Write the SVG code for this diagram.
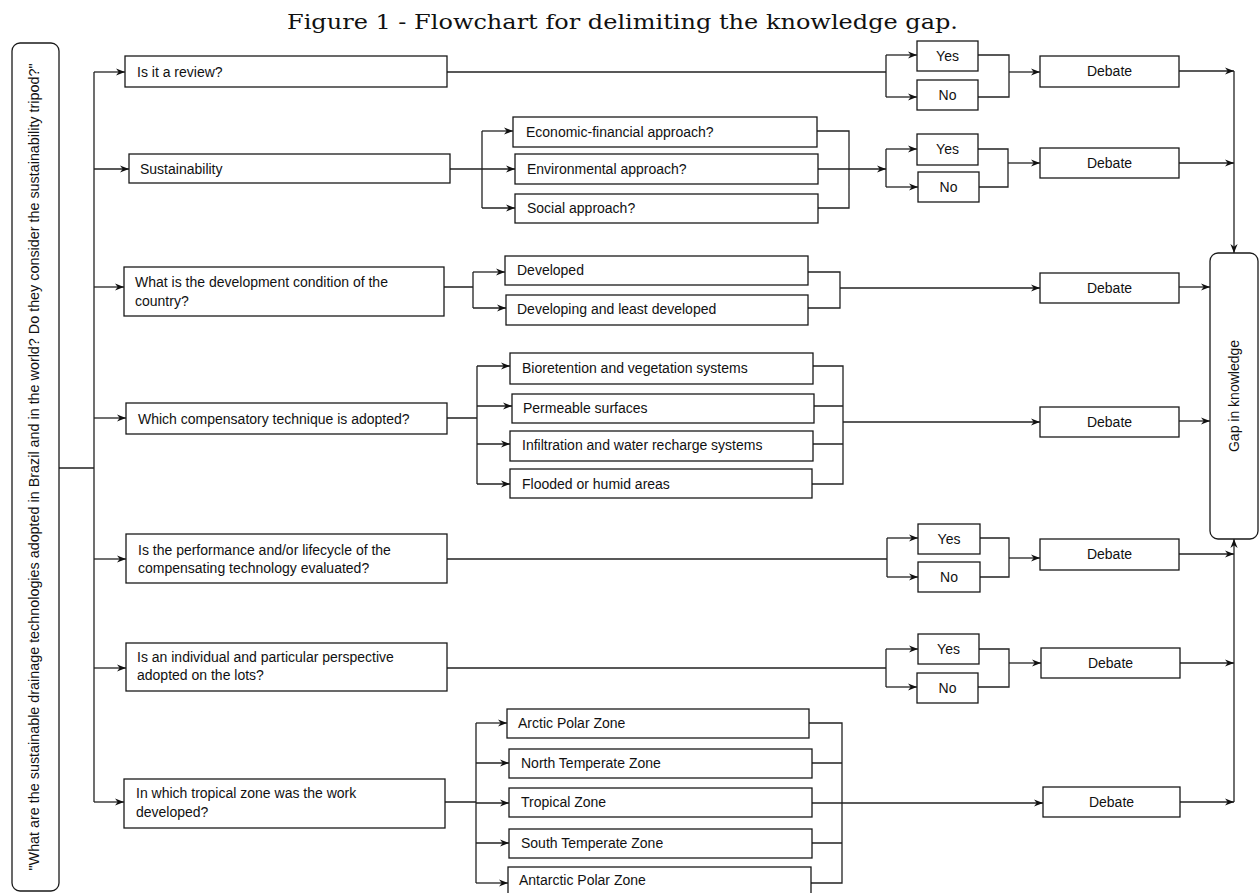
<svg xmlns="http://www.w3.org/2000/svg" width="1260" height="893" viewBox="0 0 1260 893">
<style>
.b{fill:#fff;stroke:#1a1a1a;stroke-width:1.3}
.t{font-family:"Liberation Sans",Arial,sans-serif;font-size:14px;fill:#111}
.c{text-anchor:middle}
.l{fill:none;stroke:#222;stroke-width:1.3}
.a{marker-end:url(#ar)}
</style>
<defs>
<marker id="ar" viewBox="0 0 10 8" refX="10" refY="4" markerWidth="9" markerHeight="7.2" orient="auto" markerUnits="userSpaceOnUse">
<path d="M0,0 L10,4 L0,8 L3,4 Z" fill="#111"/>
</marker>
</defs>
<rect width="1260" height="893" fill="#fff"/>
<text x="622.5" y="29" text-anchor="middle" font-family="'DejaVu Serif','Liberation Serif',serif" font-size="20" fill="#111" textLength="671" lengthAdjust="spacingAndGlyphs">Figure 1 - Flowchart for delimiting the knowledge gap.</text>

<g id="connectors">
<path class="l" d="M59,468 H94 M94,72 V802"/>
<path class="l a" d="M94,72 H125"/>
<path class="l a" d="M94,169 H129"/>
<path class="l a" d="M94,287 H124"/>
<path class="l a" d="M94,418 H126"/>
<path class="l a" d="M94,559 H126"/>
<path class="l a" d="M94,668 H126"/>
<path class="l a" d="M94,802 H124"/>
<!-- row1 -->
<path class="l" d="M447,72 H886 M886,55 V97 M978,55 H1009 V97 H978"/>
<path class="l a" d="M886,55 H917"/>
<path class="l a" d="M886,97 H917"/>
<path class="l a" d="M1009,72 H1040"/>
<path class="l a" d="M1179,71 H1234"/>
<!-- row2 -->
<path class="l" d="M450,169 H482 M482,131 V208 M817,131 H849 V208 H818 M886,149 V187 M978,149 H1008 V187 H979"/>
<path class="l a" d="M482,131 H513"/>
<path class="l a" d="M482,169 H515"/>
<path class="l a" d="M482,208 H515"/>
<path class="l a" d="M818,169 H886"/>
<path class="l a" d="M886,149 H917"/>
<path class="l a" d="M886,187 H918"/>
<path class="l a" d="M1008,163 H1040"/>
<path class="l a" d="M1179,163 H1234"/>
<path class="l a" d="M1234,71 V253"/>
<!-- row3 -->
<path class="l" d="M444,287 H473 M473,272 V308 M808,272 H840 V308 H808"/>
<path class="l a" d="M473,272 H505"/>
<path class="l a" d="M473,308 H506"/>
<path class="l a" d="M840,288 H1040"/>
<path class="l a" d="M1179,287 H1210"/>
<!-- row4 -->
<path class="l" d="M447,418 H477 M477,366 V484 M813,366 H843 V484 H812 M814,406 H843 M813,444 H843"/>
<path class="l a" d="M477,366 H510"/>
<path class="l a" d="M477,406 H512"/>
<path class="l a" d="M477,444 H510"/>
<path class="l a" d="M477,484 H510"/>
<path class="l a" d="M843,422 H1040"/>
<path class="l a" d="M1179,421 H1210"/>
<!-- row5 -->
<path class="l" d="M447,559 H887 M887,538 V577 M980,538 H1009 V577 H980"/>
<path class="l a" d="M887,538 H918"/>
<path class="l a" d="M887,577 H918"/>
<path class="l a" d="M1009,558 H1040"/>
<path class="l a" d="M1179,554 H1234"/>
<!-- row6 -->
<path class="l" d="M447,668 H886 M886,649 V687 M979,649 H1009 V687 H978"/>
<path class="l a" d="M886,649 H918"/>
<path class="l a" d="M886,687 H917"/>
<path class="l a" d="M1009,663 H1041"/>
<path class="l a" d="M1180,663 H1234"/>
<!-- row7 -->
<path class="l" d="M445,802 H476 M476,723 V883 M809,723 H842 V883 H811 M812,763 H842 M812,843 H842"/>
<path class="l a" d="M476,723 H507"/>
<path class="l a" d="M476,763 H509"/>
<path class="l a" d="M476,803 H509"/>
<path class="l a" d="M476,843 H509"/>
<path class="l a" d="M476,883 H508"/>
<path class="l a" d="M812,803 H1043"/>
<path class="l a" d="M1180,802 H1234"/>
<path class="l a" d="M1234,802 V539"/>
</g>

<g id="question">
<rect class="b" x="12" y="43" width="47" height="848" rx="8"/>
<text class="t c" transform="translate(35,467) rotate(-90)" x="0" y="4" font-size="13" textLength="807" lengthAdjust="spacingAndGlyphs">"What are the sustainable drainage technologies adopted in Brazil and in the world? Do they consider the sustainability tripod?"</text>
</g>
<g id="gap">
<rect class="b" x="1210" y="253" width="48" height="286" rx="8"/>
<text class="t c" transform="translate(1234,396) rotate(-90)" x="0" y="5">Gap in knowledge</text>
</g>

<g id="q-review"><rect class="b" x="125" y="56" width="322" height="31"/><text class="t" x="137" y="77">Is it a review?</text></g>
<g id="q-sust"><rect class="b" x="129" y="154" width="321" height="29"/><text class="t" x="140" y="174">Sustainability</text></g>
<g id="q-dev"><rect class="b" x="124" y="267" width="320" height="49"/><text class="t" x="135" y="287">What is the development condition of the</text><text class="t" x="135" y="306">country?</text></g>
<g id="q-tech"><rect class="b" x="126" y="403" width="321" height="31"/><text class="t" x="138" y="424">Which compensatory technique is adopted?</text></g>
<g id="q-perf"><rect class="b" x="126" y="534" width="321" height="49"/><text class="t" x="138" y="555">Is the performance and/or lifecycle of the</text><text class="t" x="138" y="573">compensating technology evaluated?</text></g>
<g id="q-ind"><rect class="b" x="126" y="643" width="321" height="48"/><text class="t" x="137" y="662">Is an individual and particular perspective</text><text class="t" x="137" y="680">adopted on the lots?</text></g>
<g id="q-zone"><rect class="b" x="124" y="779" width="321" height="49"/><text class="t" x="136" y="798">In which tropical zone was the work</text><text class="t" x="136" y="817">developed?</text></g>

<g id="s-eco"><rect class="b" x="513" y="117" width="304" height="30"/><text class="t" x="526" y="137">Economic-financial approach?</text></g>
<g id="s-env"><rect class="b" x="515" y="154" width="303" height="30"/><text class="t" x="527" y="174">Environmental approach?</text></g>
<g id="s-soc"><rect class="b" x="515" y="194" width="303" height="29"/><text class="t" x="527" y="213">Social approach?</text></g>

<g id="d-dev"><rect class="b" x="505" y="256" width="303" height="29"/><text class="t" x="517" y="275">Developed</text></g>
<g id="d-ing"><rect class="b" x="506" y="295" width="302" height="30"/><text class="t" x="517" y="314">Developing and least developed</text></g>

<g id="t-bio"><rect class="b" x="510" y="353" width="303" height="31"/><text class="t" x="522" y="373">Bioretention and vegetation systems</text></g>
<g id="t-perm"><rect class="b" x="512" y="394" width="302" height="29"/><text class="t" x="523" y="413">Permeable surfaces</text></g>
<g id="t-inf"><rect class="b" x="510" y="431" width="303" height="30"/><text class="t" x="522" y="450">Infiltration and water recharge systems</text></g>
<g id="t-flood"><rect class="b" x="510" y="469" width="302" height="29"/><text class="t" x="522" y="489">Flooded or humid areas</text></g>

<g id="z-arctic"><rect class="b" x="507" y="709" width="302" height="29"/><text class="t" x="518" y="728">Arctic Polar Zone</text></g>
<g id="z-north"><rect class="b" x="509" y="749" width="303" height="29"/><text class="t" x="521" y="768">North Temperate Zone</text></g>
<g id="z-trop"><rect class="b" x="509" y="788" width="303" height="29"/><text class="t" x="521" y="807">Tropical Zone</text></g>
<g id="z-south"><rect class="b" x="509" y="829" width="303" height="29"/><text class="t" x="521" y="848">South Temperate Zone</text></g>
<g id="z-antarctic"><rect class="b" x="508" y="867" width="303" height="30"/><text class="t" x="519" y="885">Antarctic Polar Zone</text></g>

<g id="yes1"><rect class="b" x="917" y="41" width="61" height="30"/><text class="t c" x="947.5" y="61">Yes</text></g>
<g id="no1"><rect class="b" x="917" y="80" width="61" height="30"/><text class="t c" x="947.5" y="100">No</text></g>
<g id="yes2"><rect class="b" x="917" y="134" width="61" height="31"/><text class="t c" x="947.5" y="154">Yes</text></g>
<g id="no2"><rect class="b" x="918" y="172" width="61" height="30"/><text class="t c" x="948.5" y="192">No</text></g>
<g id="yes5"><rect class="b" x="918" y="524" width="62" height="30"/><text class="t c" x="949" y="544">Yes</text></g>
<g id="no5"><rect class="b" x="918" y="562" width="62" height="30"/><text class="t c" x="949" y="582">No</text></g>
<g id="yes6"><rect class="b" x="918" y="634" width="61" height="30"/><text class="t c" x="948.5" y="654">Yes</text></g>
<g id="no6"><rect class="b" x="917" y="673" width="61" height="30"/><text class="t c" x="947.5" y="693">No</text></g>

<g id="debate1"><rect class="b" x="1040" y="56" width="139" height="31"/><text class="t c" x="1109.5" y="76">Debate</text></g>
<g id="debate2"><rect class="b" x="1040" y="148" width="139" height="30"/><text class="t c" x="1109.5" y="168">Debate</text></g>
<g id="debate3"><rect class="b" x="1040" y="273" width="139" height="30"/><text class="t c" x="1109.5" y="293">Debate</text></g>
<g id="debate4"><rect class="b" x="1040" y="407" width="139" height="30"/><text class="t c" x="1109.5" y="427">Debate</text></g>
<g id="debate5"><rect class="b" x="1040" y="539" width="139" height="31"/><text class="t c" x="1109.5" y="559">Debate</text></g>
<g id="debate6"><rect class="b" x="1041" y="648" width="139" height="30"/><text class="t c" x="1110.5" y="668">Debate</text></g>
<g id="debate7"><rect class="b" x="1043" y="787" width="137" height="30"/><text class="t c" x="1111.5" y="807">Debate</text></g>
</svg>
